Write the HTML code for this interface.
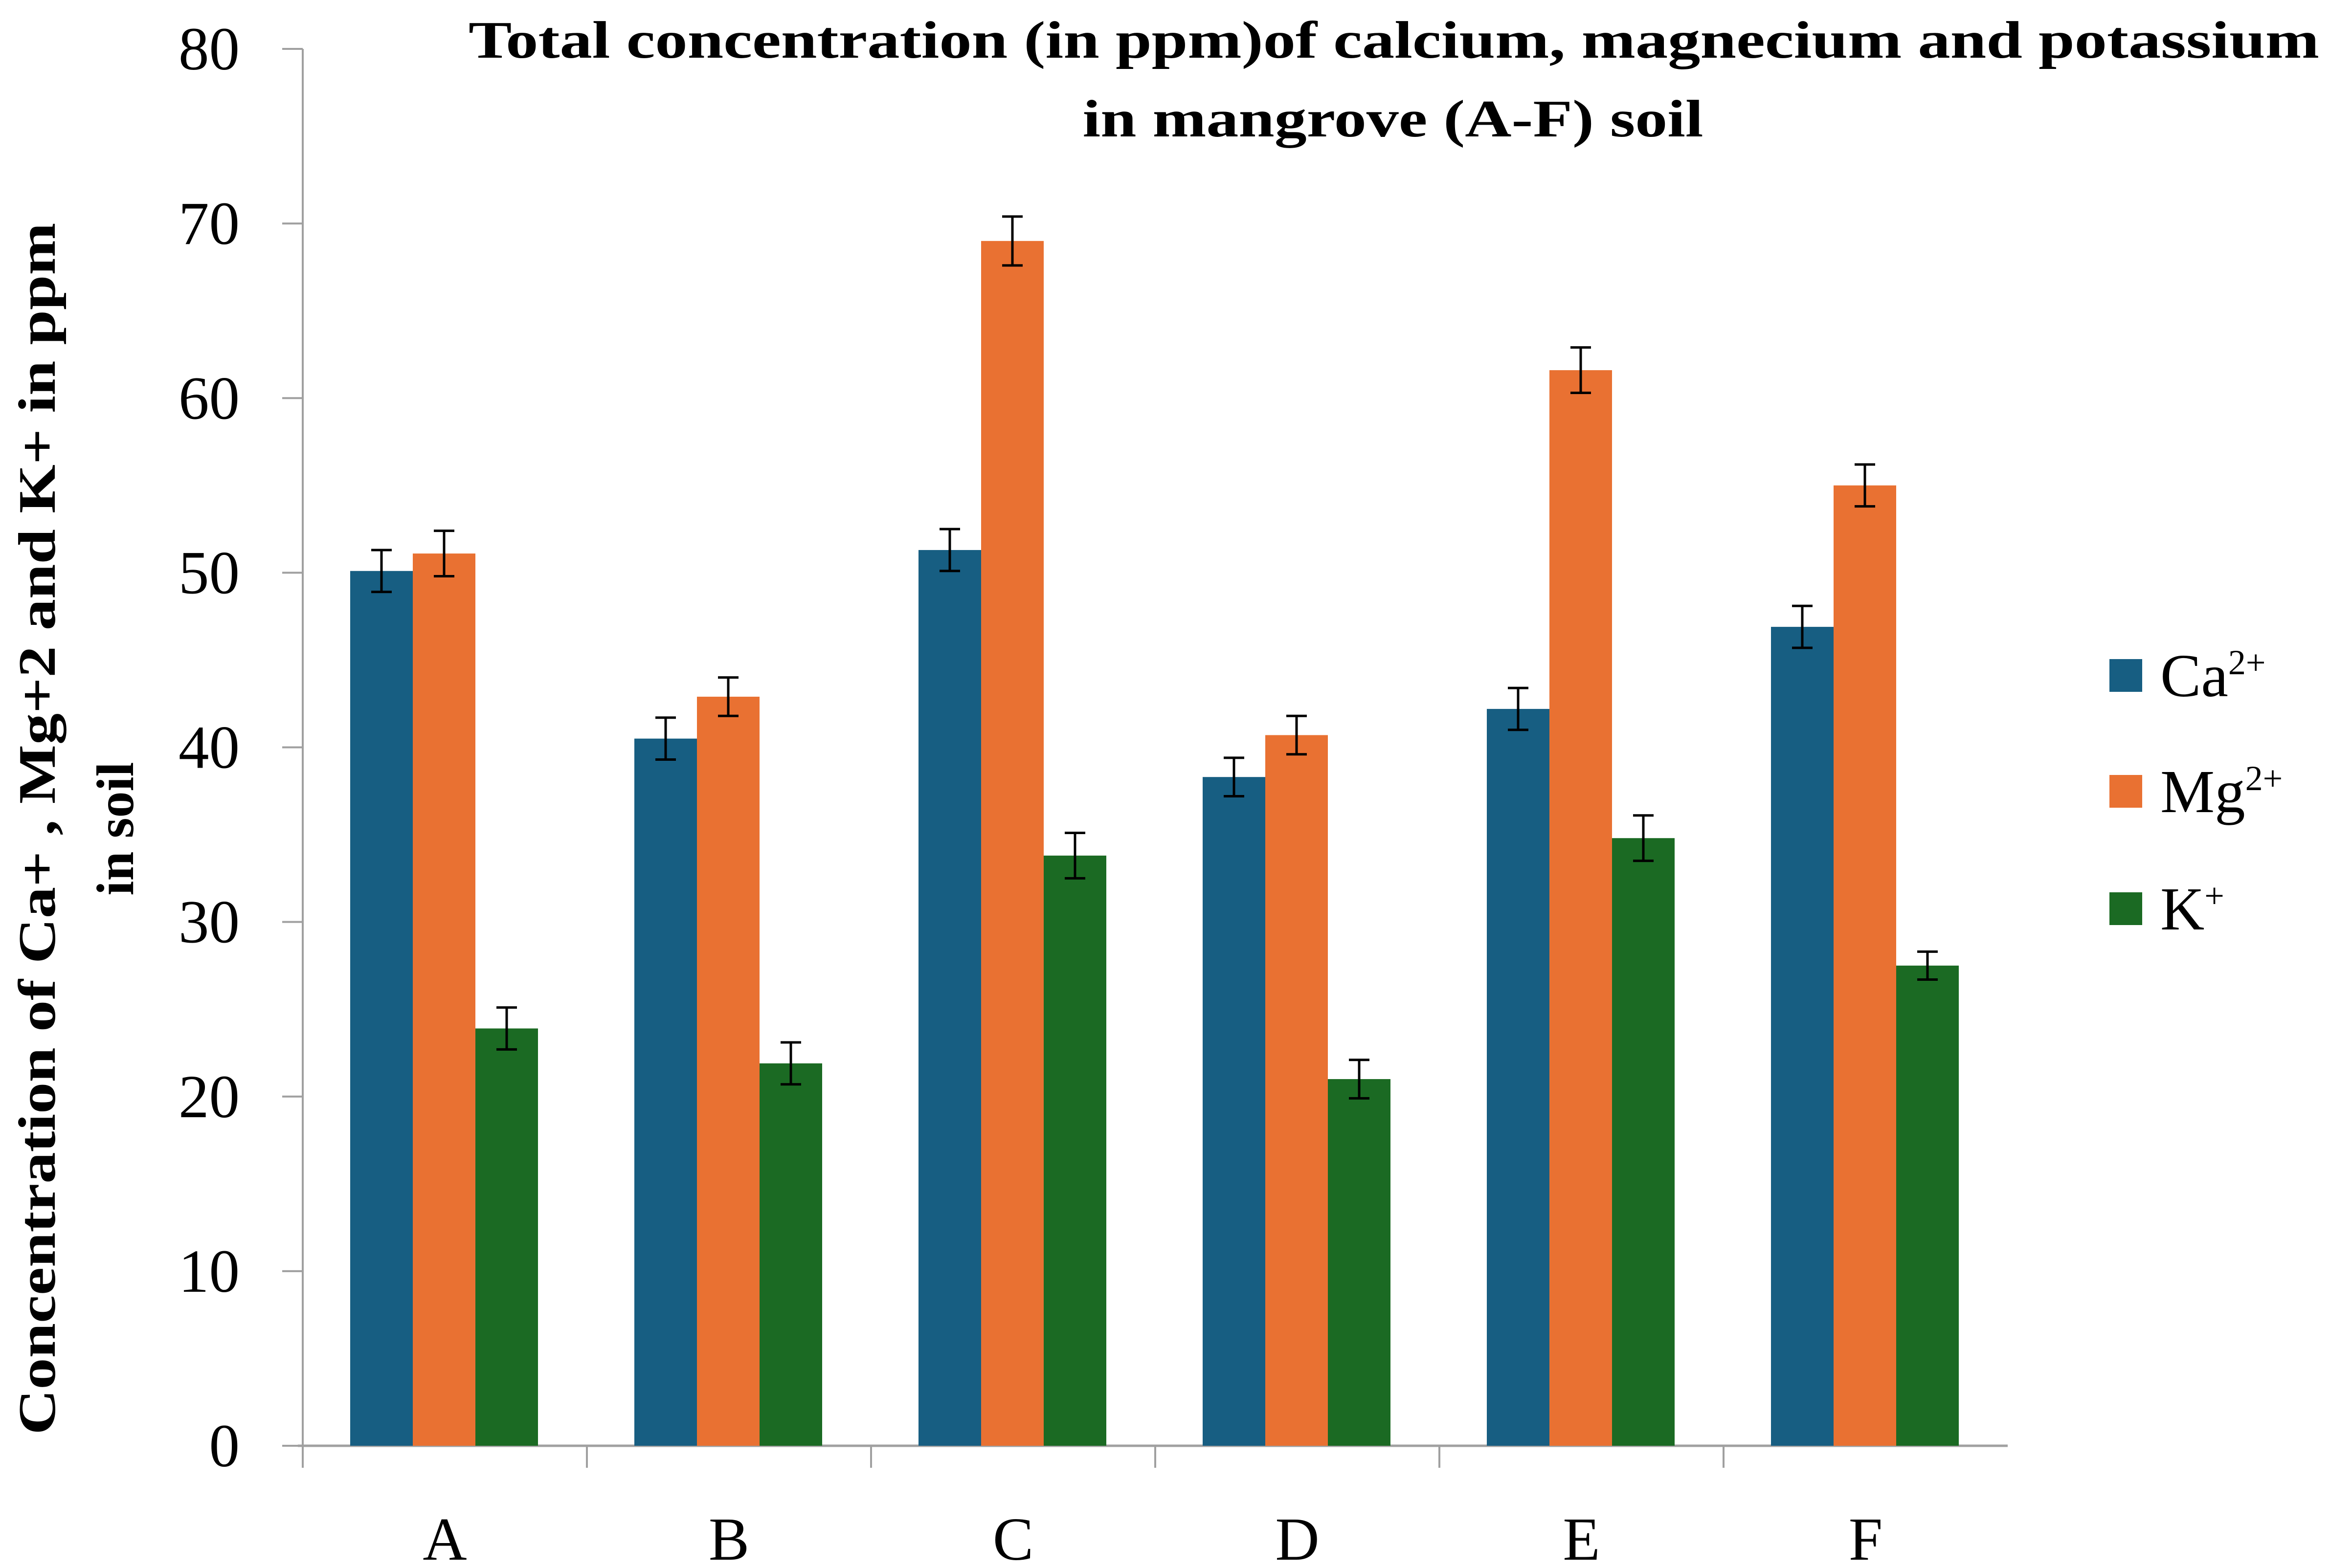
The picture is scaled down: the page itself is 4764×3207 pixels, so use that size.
<!DOCTYPE html>
<html><head><meta charset="utf-8"><style>
html,body{margin:0;padding:0;background:#fff;}
svg{display:block;}
text{font-family:"Liberation Serif",serif;fill:#000;}
</style></head><body>
<svg id="chart" width="4764" height="3207" viewBox="0 0 4764 3207">
<g id="axes"></g>
<g id="bars"></g>
<g id="errs"></g>
<text x="2850" y="118" font-size="108" font-weight="bold" text-anchor="middle" textLength="3784" lengthAdjust="spacingAndGlyphs">Total concentration (in ppm)of calcium, magnecium and potassium</text>
<text x="2848" y="279" font-size="108" font-weight="bold" text-anchor="middle" textLength="1269" lengthAdjust="spacingAndGlyphs">in mangrove (A-F) soil</text>
<g transform="translate(112,1695) rotate(-90)">
<text x="0" y="0" font-size="108" font-weight="bold" text-anchor="middle" textLength="2479" lengthAdjust="spacingAndGlyphs">Concentration of Ca+ , Mg+2 and K+ in ppm</text>
<text x="0" y="160" font-size="108" font-weight="bold" text-anchor="middle">in soil</text>
</g>
<g id="legend"></g>
</svg>
<script>
const categories = ["A","B","C","D","E","F"];
const seriesNames = ["Ca","Mg","K"];
const caValues = [50.1, 40.5, 51.3, 38.3, 42.2, 46.9];
const mgValues = [51.1, 42.9, 69.0, 40.7, 61.6, 55.0];
const kValues = [23.9, 21.9, 33.8, 21.0, 34.8, 27.5];
const caErr = [1.2, 1.2, 1.2, 1.1, 1.2, 1.2];
const mgErr = [1.3, 1.1, 1.4, 1.1, 1.3, 1.2];
const kErr = [1.2, 1.2, 1.3, 1.1, 1.3, 0.8];
const yTicks = [0,10,20,30,40,50,60,70,80];

const NS="http://www.w3.org/2000/svg";
const X0=619, Y0=2957, YTOP=100, CW=581, BW=128, OFF=97;
const colors=["#175e82","#e97132","#1b6a23"];
const vals=[caValues,mgValues,kValues], errs=[caErr,mgErr,kErr];
function y(v){return Y0-(v/80)*(Y0-YTOP);}
function xc(i){return X0+i*CW;}
function mk(tag,attrs,parent){const e=document.createElementNS(NS,tag);for(const k in attrs)e.setAttribute(k,attrs[k]);parent.appendChild(e);return e;}
const axes=document.getElementById('axes'),bars=document.getElementById('bars'),eg=document.getElementById('errs'),lg=document.getElementById('legend');

let l=mk('line',{x1:X0,y1:YTOP,x2:X0,y2:Y0,stroke:'#a0a0a0','stroke-width':4},axes);


yTicks.forEach(t=>{
  const tk=mk('line',{x1:X0-42,y1:y(t),x2:X0,y2:y(t),stroke:'#a0a0a0','stroke-width':4},axes);
  
  
  const tx=mk('text',{x:490,y:y(t)+42,'font-size':125,'text-anchor':'end'},axes);
  tx.textContent=t;
  
  
});
categories.forEach((c,i)=>{
  const tk=mk('line',{x1:xc(i),y1:Y0,x2:xc(i),y2:Y0+45,stroke:'#a0a0a0','stroke-width':4},axes);
  
  
  const tx=mk('text',{x:xc(i)+CW/2,y:3190,'font-size':125,'text-anchor':'middle'},axes);
  tx.textContent=c;
  
  
  vals.forEach((arr,s)=>{
    const bx=xc(i)+OFF+s*BW;
    const r=mk('rect',{x:bx,y:y(arr[i]),width:BW,height:Y0-y(arr[i]),fill:colors[s]},bars);
    
    
    const cx=bx+BW/2, hi=y(arr[i]+errs[s][i]), lo=y(arr[i]-errs[s][i]);
    const p=mk('path',{d:`M${cx} ${hi}V${lo}M${cx-21} ${hi}H${cx+21}M${cx-21} ${lo}H${cx+21}`,stroke:'#000','stroke-width':5,fill:'none'},eg);
    
    
  });
});
const bl=mk('line',{x1:X0-10,y1:Y0,x2:X0+6*CW,y2:Y0,stroke:'#a0a0a0','stroke-width':5},axes);



const legLabels=[["Ca","2+"],["Mg","2+"],["K","+"]];
const legY=[1348,1585,1825];
legLabels.forEach((lab,s)=>{
  const r=mk('rect',{x:4313,y:legY[s],width:67,height:67,fill:colors[s]},lg);
  
  
  const t=mk('text',{x:4417,y:legY[s]+76,'font-size':125},lg);
  
  
  const a=mk('tspan',{},t); a.textContent=lab[0];
  const b=mk('tspan',{'font-size':72,dy:-45},t); b.textContent=lab[1];
});
</script>
</body></html>
